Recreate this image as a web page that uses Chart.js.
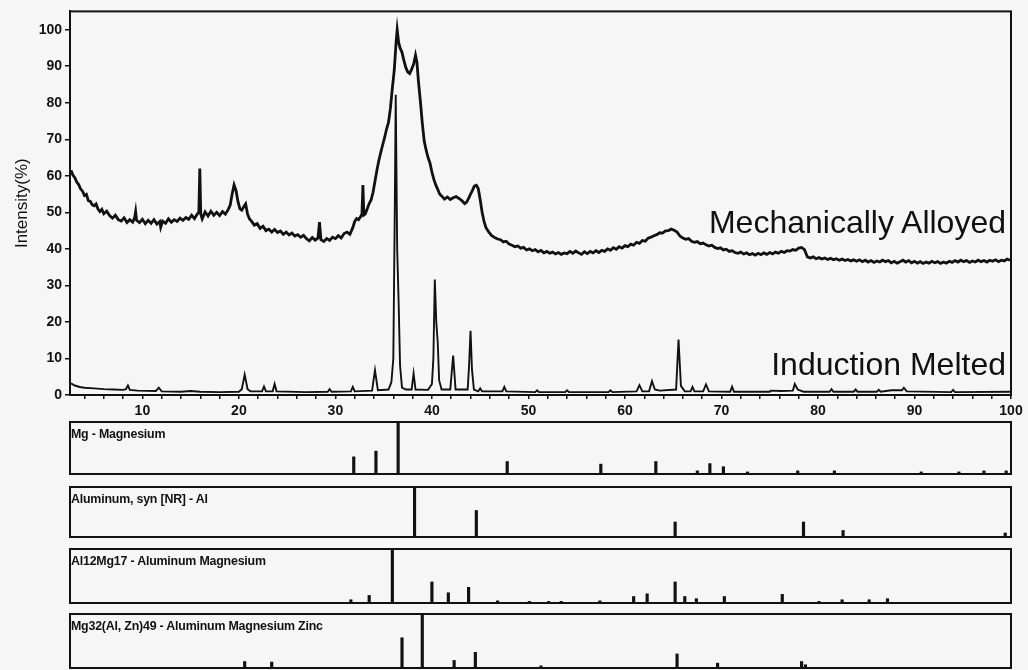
<!DOCTYPE html>
<html>
<head>
<meta charset="utf-8">
<script src="https://cdn.jsdelivr.net/npm/chart.js@4.4.1/dist/chart.umd.min.js"></script>
<style>
  html, body { margin: 0; padding: 0; background: #f6f6f6; }
  body { width: 1028px; height: 670px; position: relative; overflow: hidden; font-family: "Liberation Sans", Arial, sans-serif; }
  canvas { position: absolute; left: 0; }
  .note { position: absolute; right: 22px; font-size: 32px; line-height: 32px; color: #111; white-space: nowrap; }
  .plabel { position: absolute; left: 71px; font-size: 12.4px; line-height: 14px; font-weight: bold; color: #111; white-space: nowrap; letter-spacing: -0.2px; }
</style>
</head>
<body>
<div id="main-wrap"><canvas id="main" width="1028" height="420" style="top:0;width:1028px;height:420px"></canvas></div>
<canvas id="p1" width="1028" height="54" style="top:421px;width:1028px;height:54px"></canvas>
<canvas id="p2" width="1028" height="52" style="top:486px;width:1028px;height:52px"></canvas>
<canvas id="p3" width="1028" height="56" style="top:548px;width:1028px;height:56px"></canvas>
<canvas id="p4" width="1028" height="56" style="top:613px;width:1028px;height:56px"></canvas>
<div class="note" style="top:206px">Mechanically Alloyed</div>
<div class="note" style="top:348px">Induction Melted</div>
<div class="plabel" style="top:427px">Mg - Magnesium</div>
<div class="plabel" style="top:492px">Aluminum, syn [NR] - Al</div>
<div class="plabel" style="top:554px">Al12Mg17 - Aluminum Magnesium</div>
<div class="plabel" style="top:619px">Mg32(Al, Zn)49 - Aluminum Magnesium Zinc</div>
<script>
// ---------- DATA ----------
const xTickLabels = [10, 20, 30, 40, 50, 60, 70, 80, 90, 100];
const yTickLabels = [0, 10, 20, 30, 40, 50, 60, 70, 80, 90, 100];

// Mechanically Alloyed pattern (2-theta, intensity %)
const maTwoTheta = [2.6,2.8,3.0,3.2,3.4,3.6,3.8,4.0,4.2,4.4,4.6,4.8,5.0,5.2,5.4,5.6,5.8,6.0,6.3,6.6,6.9,7.2,7.5,7.8,8.1,8.4,8.7,9.0,9.2,9.3,9.4,9.7,10.0,10.3,10.6,10.9,11.2,11.5,11.8,11.9,12.1,12.4,12.7,13.0,13.3,13.6,13.9,14.2,14.5,14.8,15.1,15.4,15.7,15.85,15.95,16.05,16.2,16.5,16.8,17.1,17.4,17.7,18.0,18.3,18.6,18.9,19.1,19.3,19.5,19.7,19.9,20.1,20.3,20.5,20.7,20.9,21.1,21.3,21.6,21.9,22.2,22.5,22.8,23.1,23.4,23.7,24.0,24.3,24.6,24.9,25.2,25.5,25.8,26.1,26.4,26.7,27.0,27.3,27.6,27.9,28.2,28.35,28.5,28.8,29.1,29.4,29.7,30.0,30.3,30.6,30.9,31.2,31.5,31.8,32.0,32.2,32.4,32.6,32.75,32.85,32.95,33.1,33.3,33.5,33.7,33.9,34.1,34.3,34.5,34.7,34.9,35.1,35.3,35.5,35.7,35.9,36.1,36.3,36.4,36.55,36.7,36.9,37.1,37.3,37.5,37.7,37.9,38.1,38.3,38.45,38.6,38.8,39.0,39.2,39.4,39.6,39.8,40.0,40.2,40.4,40.6,40.8,41.0,41.3,41.6,41.9,42.2,42.5,42.8,43.1,43.4,43.6,43.8,44.0,44.2,44.4,44.6,44.8,45.0,45.2,45.4,45.6,45.9,46.2,46.5,46.8,47.1,47.4,47.7,48.0,48.3,48.6,48.9,49.2,49.5,49.8,50.1,50.4,50.7,51.0,51.3,51.6,51.9,52.2,52.5,52.8,53.1,53.4,53.7,54.0,54.3,54.6,54.9,55.2,55.5,55.8,56.1,56.4,56.7,57.0,57.3,57.6,57.9,58.2,58.5,58.8,59.1,59.4,59.7,60.0,60.3,60.6,60.9,61.2,61.5,61.8,62.1,62.4,62.7,63.0,63.3,63.6,63.9,64.2,64.5,64.8,65.1,65.4,65.7,66.0,66.3,66.6,66.9,67.2,67.5,67.8,68.1,68.4,68.7,69.0,69.3,69.6,69.9,70.2,70.5,70.8,71.1,71.4,71.7,72.0,72.3,72.6,72.9,73.2,73.5,73.8,74.1,74.4,74.7,75.0,75.3,75.6,75.9,76.2,76.5,76.8,77.1,77.4,77.7,78.0,78.3,78.6,78.9,79.2,79.5,79.8,80.1,80.4,80.7,81.0,81.3,81.6,81.9,82.2,82.5,82.8,83.1,83.4,83.7,84.0,84.3,84.6,84.9,85.2,85.5,85.8,86.1,86.4,86.7,87.0,87.3,87.6,87.9,88.2,88.5,88.8,89.1,89.4,89.7,90.0,90.3,90.6,90.9,91.2,91.5,91.8,92.1,92.4,92.7,93.0,93.3,93.6,93.9,94.2,94.5,94.8,95.1,95.4,95.7,96.0,96.3,96.6,96.9,97.2,97.5,97.8,98.1,98.4,98.7,99.0,99.3,99.6,99.9];
const maIntensity = [61.5,60.2,59.5,58.3,57.6,56.4,55.8,54.6,54.9,53.2,53.0,52.1,51.8,52.3,50.9,50.2,50.8,49.6,50.3,49.1,48.4,49.2,48.0,47.6,48.5,47.2,48.0,47.3,48.6,50.2,47.8,47.2,48.1,46.9,47.8,47.0,48.0,46.8,47.5,45.9,47.6,47.0,48.2,47.3,48.0,47.5,48.4,47.8,48.6,48.1,49.2,48.3,49.6,50.0,62.0,49.5,48.2,50.1,49.0,50.3,49.2,50.0,49.1,50.2,49.5,50.8,52.0,55.0,57.5,56.0,53.0,51.0,50.6,51.5,52.3,49.5,48.2,47.6,46.5,46.9,45.6,46.2,45.0,45.4,44.6,45.3,44.5,44.9,44.0,44.6,43.8,44.3,43.5,43.9,43.2,43.7,42.8,42.2,43.1,42.4,43.0,47.3,42.5,42.0,42.8,42.3,43.2,42.8,43.6,43.0,44.2,44.6,44.0,45.8,47.5,48.3,48.0,48.8,49.5,57.5,49.3,49.6,51.0,52.4,53.4,55.5,58.5,61.5,64.2,66.4,68.5,70.5,72.8,74.6,78.5,84.0,89.0,97.0,100.0,96.5,95.0,93.8,91.5,89.6,88.4,88.0,89.2,90.5,93.0,91.0,86.0,80.5,74.5,69.5,67.0,65.0,63.5,61.0,59.0,57.5,56.3,55.0,54.5,53.6,54.2,53.5,54.0,54.3,53.8,53.2,52.4,52.8,53.8,55.0,56.0,57.2,57.4,56.5,53.5,50.0,47.5,45.8,44.6,43.6,43.1,42.7,42.5,41.9,42.1,41.3,41.0,40.6,40.8,40.2,40.4,39.7,40.0,39.5,39.8,39.2,39.6,38.9,39.3,38.8,39.1,38.6,39.0,38.5,38.9,38.7,39.3,38.8,39.4,38.9,38.5,39.2,38.7,39.3,38.9,39.5,39.0,39.6,39.3,40.0,39.6,40.3,39.9,40.6,40.2,40.9,40.6,41.3,41.0,41.8,41.5,42.3,42.1,42.9,43.2,43.6,43.9,44.4,44.3,44.9,45.0,45.4,45.1,44.6,43.5,43.0,42.6,42.8,42.1,41.8,42.0,41.4,41.6,41.1,40.8,41.0,40.4,40.1,40.3,39.7,39.9,39.3,39.5,39.0,38.8,39.1,38.6,38.9,38.4,38.7,38.3,38.8,38.4,38.9,38.5,39.0,38.6,39.1,38.8,39.3,39.0,39.5,39.4,39.8,39.6,40.2,40.4,39.8,37.8,37.5,37.8,37.3,37.6,37.2,37.5,37.1,37.4,37.0,37.3,36.9,37.2,36.8,37.1,36.7,37.0,36.6,37.0,36.5,36.9,36.4,36.8,36.3,36.7,36.4,36.9,36.5,36.8,36.2,36.6,36.1,36.5,36.9,36.4,36.8,36.2,36.6,36.1,36.5,36.0,36.4,36.1,36.6,36.2,36.5,36.0,36.4,36.1,36.6,36.3,36.8,36.4,36.9,36.5,36.8,36.3,36.7,36.4,36.9,36.5,36.8,36.4,36.9,36.6,37.0,36.5,36.9,36.7,37.2,36.9];

// Induction Melted pattern
const imTwoTheta = [2.6,3.0,3.5,4.0,5.0,6.0,7.0,8.0,8.3,8.5,8.7,9.5,11.4,11.7,12.0,14.0,15.0,16.0,18.0,20.0,20.3,20.6,20.9,21.2,22.4,22.6,22.8,23.5,23.7,23.9,27.0,29.2,29.4,29.6,31.6,31.8,32.0,33.8,34.1,34.4,35.5,35.8,36.0,36.15,36.25,36.4,36.55,36.7,36.9,37.3,37.9,38.1,38.3,39.6,40.0,40.15,40.3,40.45,40.6,40.75,41.0,41.9,42.2,42.45,43.7,43.85,44.0,44.15,44.35,44.8,45.0,45.2,47.3,47.5,47.7,50.7,50.9,51.1,53.8,54.0,54.2,58.3,58.5,58.7,61.2,61.5,61.8,62.5,62.8,63.1,63.6,65.3,65.55,65.8,66.2,66.8,67.0,67.2,68.1,68.4,68.7,70.9,71.1,71.3,75.0,75.1,76.2,77.4,77.6,77.9,78.5,81.2,81.4,81.6,83.7,83.9,84.1,86.1,86.3,86.5,87.6,88.7,88.9,89.2,93.8,94.0,94.2,100];
const imIntensity = [3.2,2.6,2.2,2.0,1.8,1.6,1.5,1.4,1.6,2.6,1.4,1.2,1.1,2.0,1.0,0.9,1.1,0.9,0.8,0.9,1.6,5.6,1.6,1.0,1.0,2.3,1.0,1.0,3.0,1.0,0.8,0.9,1.6,0.9,1.0,2.2,1.0,1.2,6.8,1.3,1.5,3.5,10,50,82.2,40,25.5,8,2.0,1.5,1.5,5.9,1.5,1.4,3.0,10,31.6,20,14.5,4,1.5,1.5,10.8,1.5,1.5,8,17.6,7,1.5,1.0,1.8,1.0,1.0,2.2,1.0,0.8,1.3,0.8,0.8,1.3,0.8,0.8,1.3,0.8,1.0,2.7,1.0,1.0,3.8,1.5,1.2,1.5,15.2,2.5,1.0,1.0,2.2,1.0,1.0,2.9,1.0,0.9,2.3,0.9,0.9,1.2,1.1,1.2,3.0,1.5,0.9,0.9,1.6,0.9,0.9,1.5,0.9,0.9,1.4,0.9,1.3,1.3,2.0,1.0,0.8,1.4,0.8,0.9];

// Reference stick patterns (position, relative intensity %)
const mgPos = [31.9,34.2,36.5,47.8,57.5,63.2,67.5,68.8,70.2,72.7,77.9,81.7,90.7,94.6,97.2,99.5];
const mgInt = [33,44,100,24,19,24,6,20,14,4,6,6,4,4,6,6];
const alPos = [38.2,44.6,65.2,78.5,82.6,99.4];
const alInt = [100,53,30,30,13,8];
const al12Mg17Pos = [31.6,33.5,35.9,40.0,41.7,43.8,46.8,50.1,52.1,53.4,57.4,60.9,62.3,65.2,66.2,67.4,70.3,76.3,80.1,82.5,85.3,87.2];
const al12Mg17Int = [6,14,100,39,19,29,4,3,3,3,4,12,17,39,12,8,12,16,3,6,6,8];
const mg32Pos = [20.6,23.4,36.9,39.0,42.3,44.5,51.3,65.4,69.6,78.3,78.7];
const mg32Int = [12,11,56,100,14,29,4,26,9,12,6];

// ---------- RENDER ----------
const INK = '#111';
const X_MIN = 2.5, X_MAX = 100;
const zip = (xs, ys) => xs.map((x, i) => ({x, y: ys[i]}));

const framePlugin = {
  id: 'frame',
  afterDraw(chart, args, opts) {
    const a = chart.chartArea, c = chart.ctx;
    c.save();
    c.strokeStyle = INK;
    c.lineWidth = opts.width || 2;
    c.strokeRect(a.left, a.top, a.right - a.left, a.bottom - a.top);
    c.restore();
  }
};

new Chart(document.getElementById('main'), {
  type: 'line',
  data: {
    datasets: [
      { label: 'Mechanically Alloyed', data: zip(maTwoTheta, maIntensity), borderColor: INK, borderWidth: 2.8, pointRadius: 0, tension: 0, fill: false },
      { label: 'Induction Melted', data: zip(imTwoTheta, imIntensity), borderColor: INK, borderWidth: 1.9, pointRadius: 0, tension: 0, fill: false }
    ]
  },
  options: {
    responsive: false, animation: false,
    layout: { padding: { top: 7, right: 17, left: 0, bottom: 0 } },
    plugins: { legend: { display: false }, tooltip: { enabled: false }, frame: { width: 2 } },
    scales: {
      x: {
        type: 'linear', min: X_MIN, max: X_MAX,
        afterBuildTicks: s => { const t = []; for (let v = 4; v <= 100; v += 2) t.push({value: v}); s.ticks = t; },
        afterFit: s => { s.height = 25; },
        ticks: { autoSkip: false, maxRotation: 0, padding: 4, color: INK, font: { family: 'Liberation Sans', size: 14, weight: 'bold' },
                 callback: v => (xTickLabels.includes(v) ? String(v) : '') },
        grid: { display: true, drawOnChartArea: false, drawTicks: true, tickLength: 4, color: INK, lineWidth: 1.5 },
        border: { display: true, color: INK, width: 2 }
      },
      y: {
        min: 0, max: 105,
        afterBuildTicks: s => { s.ticks = yTickLabels.map(v => ({value: v})); },
        afterFit: s => { s.width = 70; },
        ticks: { padding: 3, color: INK, font: { family: 'Liberation Sans', size: 14, weight: 'bold' } },
        grid: { display: true, drawOnChartArea: false, drawTicks: true, tickLength: 5, color: INK, lineWidth: 1.5 },
        border: { display: true, color: INK, width: 2 },
        title: { display: true, text: 'Intensity(%)', color: INK, font: { family: 'Liberation Sans', size: 17 }, padding: { top: 12, bottom: 0 } }
      }
    }
  },
  plugins: [framePlugin]
});

function stickPanel(id, pos, intens, label) {
  new Chart(document.getElementById(id), {
    type: 'bar',
    data: { datasets: [{ label, data: zip(pos, intens), backgroundColor: INK, barThickness: 2.5 }] },
    options: {
      responsive: false, animation: false,
      layout: { padding: { top: 1, right: 17, left: 70, bottom: 1 } },
      plugins: { legend: { display: false }, tooltip: { enabled: false }, frame: { width: 2 } },
      scales: {
        x: { type: 'linear', min: X_MIN, max: X_MAX, display: false, offset: false },
        y: { min: 0, max: 100, display: false }
      }
    },
    plugins: [framePlugin]
  });
}
stickPanel('p1', mgPos, mgInt, 'Mg - Magnesium');
stickPanel('p2', alPos, alInt, 'Aluminum, syn [NR] - Al');
stickPanel('p3', al12Mg17Pos, al12Mg17Int, 'Al12Mg17 - Aluminum Magnesium');
stickPanel('p4', mg32Pos, mg32Int, 'Mg32(Al, Zn)49 - Aluminum Magnesium Zinc');
</script>
</body>
</html>
